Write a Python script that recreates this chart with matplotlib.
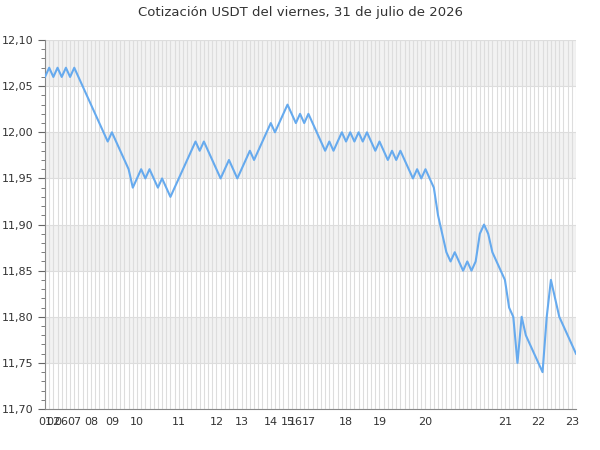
import matplotlib
matplotlib.use("Agg")
import matplotlib.pyplot as plt
from matplotlib.ticker import MultipleLocator, FuncFormatter

# Precio USDT, un punto por muestra
precios = [
    12.06, 12.07, 12.06, 12.07, 12.06, 12.07, 12.06, 12.07, 12.06, 12.05,
    12.04, 12.03, 12.02, 12.01, 12.00, 11.99, 12.00, 11.99, 11.98, 11.97,
    11.96, 11.94, 11.95, 11.96, 11.95, 11.96, 11.95, 11.94, 11.95, 11.94,
    11.93, 11.94, 11.95, 11.96, 11.97, 11.98, 11.99, 11.98, 11.99, 11.98,
    11.97, 11.96, 11.95, 11.96, 11.97, 11.96, 11.95, 11.96, 11.97, 11.98,
    11.97, 11.98, 11.99, 12.00, 12.01, 12.00, 12.01, 12.02, 12.03, 12.02,
    12.01, 12.02, 12.01, 12.02, 12.01, 12.00, 11.99, 11.98, 11.99, 11.98,
    11.99, 12.00, 11.99, 12.00, 11.99, 12.00, 11.99, 12.00, 11.99, 11.98,
    11.99, 11.98, 11.97, 11.98, 11.97, 11.98, 11.97, 11.96, 11.95, 11.96,
    11.95, 11.96, 11.95, 11.94, 11.91, 11.89, 11.87, 11.86, 11.87, 11.86,
    11.85, 11.86, 11.85, 11.86, 11.89, 11.90, 11.89, 11.87, 11.86, 11.85,
    11.84, 11.81, 11.80, 11.75, 11.80, 11.78, 11.77, 11.76, 11.75, 11.74,
    11.80, 11.84, 11.82, 11.80, 11.79, 11.78, 11.77, 11.76,
]

# primera muestra de cada hora
hora_pos = [0, 2, 4, 7, 11, 16, 22, 32, 41, 47, 54, 58, 60, 63, 72, 80, 91, 110, 118, 126]
hora_txt = ["01", "02", "06", "07", "08", "09", "10", "11", "12", "13",
            "14", "15", "16", "17", "18", "19", "20", "21", "22", "23"]

y_min, y_max = 11.70, 12.10

fig, ax = plt.subplots(figsize=(6, 4.5), dpi=100)
fig.subplots_adjust(left=0.075, right=0.96, top=0.911, bottom=0.091)

# bandas alternas
y = y_min
k = 0
while y < y_max - 1e-9:
    if k % 2 == 1:
        ax.axhspan(y, y + 0.05, color="#f2f2f2", zorder=0, lw=0)
    y += 0.05
    k += 1

x = list(range(len(precios)))
ax.plot(x, precios, color="#66aaee", linewidth=1.5, zorder=3)

ax.set_xlim(0, len(precios) - 1)
ax.set_ylim(y_min, y_max)

ax.set_xticks(hora_pos)
ax.set_xticklabels(hora_txt)
ax.xaxis.set_minor_locator(MultipleLocator(1))
ax.yaxis.set_major_locator(MultipleLocator(0.05))
ax.yaxis.set_minor_locator(MultipleLocator(0.01))
ax.yaxis.set_major_formatter(FuncFormatter(lambda v, p: f"{v:.2f}".replace(".", ",")))

ax.grid(True, which="both", axis="x", color="#dddddd", linewidth=0.8, zorder=1)
ax.grid(True, which="major", axis="y", color="#dddddd", linewidth=0.8, zorder=1)
ax.set_axisbelow(True)

ax.tick_params(axis="x", which="both", length=0, pad=6, labelsize=8, labelcolor="#333333")
ax.tick_params(axis="y", which="major", length=5, color="#666666", labelsize=8, labelcolor="#333333")
ax.tick_params(axis="y", which="minor", length=3, color="#666666")

for s in ["top", "right"]:
    ax.spines[s].set_visible(False)
for s in ["left", "bottom"]:
    ax.spines[s].set_color("#888888")

fig.text(0.5, 0.973, "Cotización USDT del viernes, 31 de julio de 2026",
         ha="center", va="center", fontsize=9.5, color="#333333")

plt.savefig("out.png")
